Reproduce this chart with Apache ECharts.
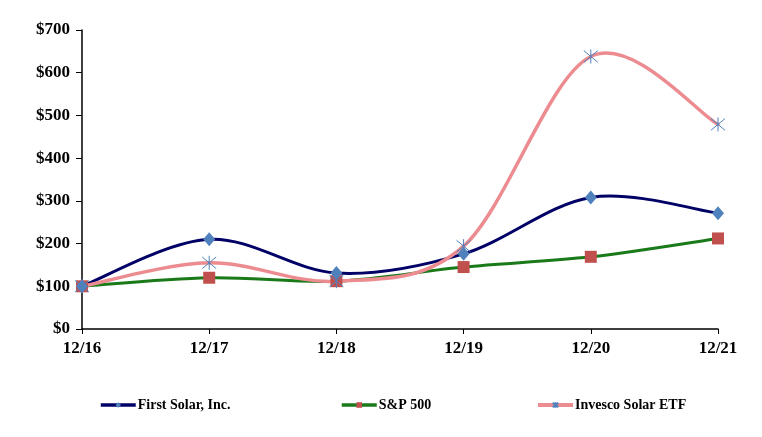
<!DOCTYPE html>
<html><head><meta charset="utf-8">
<script src="https://cdn.jsdelivr.net/npm/echarts@6/dist/echarts.min.js"></script>
<style>html,body{margin:0;padding:0;background:#fff}#c{width:762px;height:437px}</style>
</head><body><div id="c"></div>
<script>
const categories = ['12/16','12/17','12/18','12/19','12/20','12/21'];
const firstSolar = [100, 210, 131, 176, 308, 271];
const sp500 = [100, 120, 112, 145, 169, 212];
const invesco = [100, 155, 112, 194, 638, 479];
const yTicks = [0, 100, 200, 300, 400, 500, 600, 700];

const font = 'Liberation Serif, Times New Roman, serif';
const chart = echarts.init(document.getElementById('c'));
const star = 'path://M0,0L10,10M10,0L0,10M5,-1L5,11';
const colors = {fs: '#000066', sp: '#1a7a1a', inv: '#EC8C90'};

// Excel-style smoothed curve (Catmull-Rom through the data points, positioned by the axes)
function curveSeries(arr, color, width, z) {
  return {
    type: 'custom', silent: true, z: z,
    data: arr.map((v, i) => [i, v]),
    encode: {x: 0, y: 1},
    renderItem: function (params, api) {
      const i = params.dataIndex;
      const n = arr.length;
      if (i >= n - 1) return null;
      const p = k => api.coord([Math.max(0, Math.min(n - 1, k)), arr[Math.max(0, Math.min(n - 1, k))]]);
      const p0 = p(i - 1), p1 = p(i), p2 = p(i + 1), p3 = p(i + 2);
      return {
        type: 'bezierCurve',
        shape: {
          x1: p1[0], y1: p1[1], x2: p2[0], y2: p2[1],
          cpx1: p1[0] + (p2[0] - p0[0]) / 6, cpy1: p1[1] + (p2[1] - p0[1]) / 6,
          cpx2: p2[0] - (p3[0] - p1[0]) / 6, cpy2: p2[1] - (p3[1] - p1[1]) / 6
        },
        style: {stroke: color, lineWidth: width, fill: null, lineCap: 'round'}
      };
    }
  };
}

const legendBase = {top: 398, padding: 0, itemWidth: 35, itemHeight: 7, itemGap: 4,
  textStyle: {fontFamily: font, fontWeight: 'bold', fontSize: 14, color: '#000', padding: [0, 0, 0, -3]}};
chart.setOption({
  animation: false,
  grid: {left: 82, right: 44, top: 30, bottom: 108, containLabel: false},
  legend: [
    Object.assign({left: 99, data: [{name: 'First Solar, Inc.', lineStyle: {width: 3.5, color: colors.fs, opacity: 1}}]}, legendBase),
    Object.assign({left: 340, data: [{name: 'S&P 500', lineStyle: {width: 3.5, color: colors.sp, opacity: 1}}]}, legendBase),
    Object.assign({left: 536, data: [{name: 'Invesco Solar ETF', lineStyle: {width: 4, color: colors.inv, opacity: 1}}]}, legendBase)
  ],
  xAxis: {
    type: 'category', data: categories, boundaryGap: false,
    axisLine: {lineStyle: {color: '#000', width: 1.5}},
    axisTick: {show: true, length: 5, lineStyle: {color: '#000'}},
    axisLabel: {fontFamily: font, fontWeight: 'bold', fontSize: 17, color: '#000', margin: 11}
  },
  yAxis: {
    type: 'value', min: 0, max: 700, interval: 100,
    axisLine: {show: true, lineStyle: {color: '#000', width: 1.5}},
    axisTick: {show: true, length: 6, lineStyle: {color: '#000'}},
    splitLine: {show: false},
    axisLabel: {fontFamily: font, fontWeight: 'bold', fontSize: 17, color: '#000', margin: 12,
      formatter: v => yTicks.includes(v) ? '$' + v : ''}
  },
  series: [
    curveSeries(sp500, colors.sp, 3, 1),
    curveSeries(firstSolar, colors.fs, 3, 2),
    curveSeries(invesco, colors.inv, 3.5, 3),
    {name: 'S&P 500', type: 'line', data: sp500,
      lineStyle: {color: colors.sp, width: 3, opacity: 0}, symbol: 'rect', symbolSize: 12,
      itemStyle: {color: '#C0504D'}, z: 5},
    {name: 'Invesco Solar ETF', type: 'line', data: invesco,
      lineStyle: {color: colors.inv, width: 3.5, opacity: 0}, symbol: star, symbolSize: 14,
      itemStyle: {color: 'rgba(0,0,0,0)', borderColor: '#4F81BD', borderWidth: 1}, z: 6},
    {name: 'First Solar, Inc.', type: 'line', data: firstSolar,
      lineStyle: {color: colors.fs, width: 3, opacity: 0}, symbol: 'diamond', symbolSize: [12, 14],
      itemStyle: {color: '#4F81BD'}, z: 7}
  ]
});
</script></body></html>
